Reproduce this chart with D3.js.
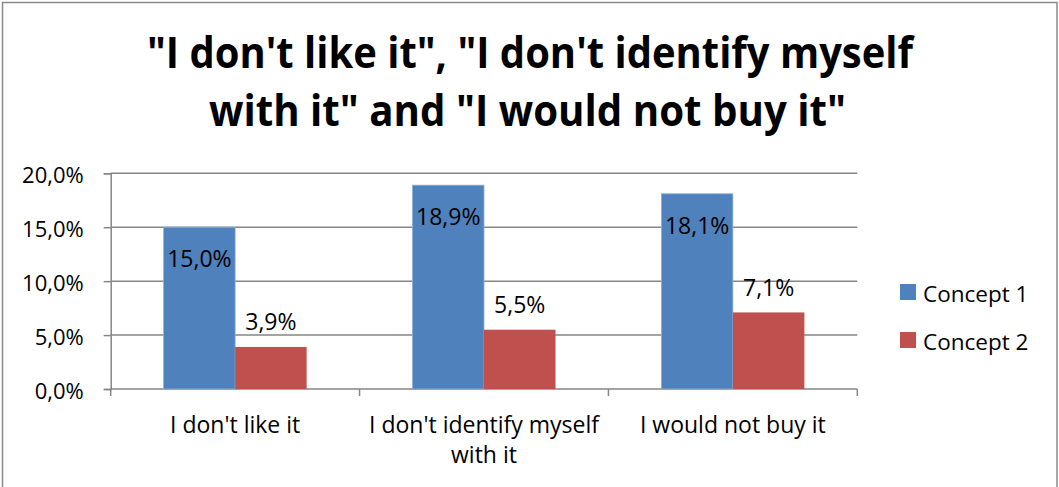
<!DOCTYPE html>
<html>
<head>
<meta charset="utf-8">
<script src="https://cdn.jsdelivr.net/npm/d3@7"></script>
<style>
  html, body { margin: 0; padding: 0; background: #fff; }
  svg { display: block; }
  text { font-family: "Open Sans", "Liberation Sans", sans-serif; fill: #000; }
</style>
</head>
<body>
<svg id="chart" width="1059" height="487"></svg>
<script>
// Data
const categories = ["I don't like it", "I don't identify myself\nwith it", "I would not buy it"];
const seriesNames = ["Concept 1", "Concept 2"];
const concept1 = [15.0, 18.9, 18.1];
const concept2 = [3.9, 5.5, 7.1];
const yTicks = [0, 5, 10, 15, 20];
const colors = ["#4F81BD", "#C0504D"];
const titleLines = ["\"I don't like it\", \"I don't identify myself", "with it\" and \"I would not buy it\""];

const values = [concept1, concept2];
const fmt = v => v.toFixed(1).replace(".", ",") + "%";

const svg = d3.select("#chart");

// Chart frame
svg.append("rect")
  .attr("x", 2.5).attr("y", 2.5)
  .attr("width", 1054.5).attr("height", 500)
  .attr("fill", "#fff").attr("stroke", "#8a8a8a").attr("stroke-width", 1.5);

// Title
const titleWidths = [766, 637];
const titleX = [530, 527.5];
const titleY = [68, 126];
titleLines.forEach((t, i) => {
  svg.append("text")
    .attr("x", titleX[i]).attr("y", titleY[i])
    .attr("text-anchor", "middle")
    .attr("font-size", 43).attr("font-weight", 700)
    .attr("textLength", titleWidths[i])
    .attr("lengthAdjust", "spacingAndGlyphs")
    .text(t);
});

// Scales
const plot = { left: 110.7, right: 857.3, top: 173.3, bottom: 389 };
const y = d3.scaleLinear().domain([0, 20]).range([plot.bottom, plot.top]);
const x0 = d3.scaleBand().domain(d3.range(categories.length))
  .range([plot.left, plot.right]).paddingInner(0).paddingOuter(0);
const x1 = d3.scaleBand().domain(d3.range(seriesNames.length))
  .range([0, x0.bandwidth()]).paddingInner(0).paddingOuter(0.74);

// Gridlines
svg.append("g")
  .selectAll("line").data(yTicks.filter(d => d > 0)).join("line")
  .attr("x1", plot.left).attr("x2", plot.right)
  .attr("y1", d => y(d)).attr("y2", d => y(d))
  .attr("stroke", "#868686").attr("stroke-width", 1.5);

// Y axis
const yAxis = d3.axisLeft(y).tickValues(yTicks).tickSize(7).tickFormat(fmt);
const gy = svg.append("g").attr("transform", `translate(${plot.left},0)`).call(yAxis);
gy.select(".domain").attr("stroke", "#868686").attr("stroke-width", 1.5);
gy.selectAll(".tick line").attr("stroke", "#868686").attr("stroke-width", 1.5);
gy.selectAll(".tick text")
  .attr("x", -27).attr("dy", "0.42em")
  .attr("font-size", 22).attr("font-family", "\"Open Sans\", sans-serif").attr("fill", "#000");

// X axis (ticks at category boundaries)
const boundaries = d3.range(categories.length + 1).map(i => plot.left + i * x0.step());
svg.append("line")
  .attr("x1", plot.left).attr("x2", plot.right)
  .attr("y1", plot.bottom).attr("y2", plot.bottom)
  .attr("stroke", "#868686").attr("stroke-width", 1.5);
svg.append("g").selectAll("line").data(boundaries).join("line")
  .attr("x1", d => d).attr("x2", d => d)
  .attr("y1", plot.bottom).attr("y2", plot.bottom + 7)
  .attr("stroke", "#868686").attr("stroke-width", 1.5);

// Bars
const groups = svg.append("g").selectAll("g").data(categories).join("g")
  .attr("transform", (d, i) => `translate(${x0(i)},0)`);

groups.each(function(cat, ci) {
  const g = d3.select(this);
  seriesNames.forEach((s, si) => {
    const v = values[si][ci];
    g.append("rect")
      .attr("x", x1(si)).attr("width", x1.bandwidth())
      .attr("y", y(v)).attr("height", y(0) - y(v))
      .attr("fill", colors[si])
      .attr("stroke", si === 0 ? "#8fb0d8" : "none").attr("stroke-width", 0.8);
    g.append("text")
      .attr("x", x1(si) + x1.bandwidth() / 2)
      .attr("y", si === 0 ? y(v) + 40 : y(v) - 16.5)
      .attr("text-anchor", "middle")
      .attr("font-size", 23)
      .text(fmt(v));
  });
});

// Category labels
categories.forEach((c, i) => {
  const lines = c.split("\n");
  const t = svg.append("text")
    .attr("x", x0(i) + x0.bandwidth() / 2).attr("y", 433)
    .attr("text-anchor", "middle").attr("font-size", 23);
  lines.forEach((ln, li) => {
    t.append("tspan")
      .attr("x", x0(i) + x0.bandwidth() / 2)
      .attr("dy", li === 0 ? 0 : 30)
      .text(ln);
  });
});

// Legend
const legend = svg.append("g").selectAll("g").data(seriesNames).join("g")
  .attr("transform", (d, i) => `translate(900,${284 + i * 48})`);
legend.append("rect").attr("width", 16).attr("height", 16)
  .attr("fill", (d, i) => colors[i]);
legend.append("text").attr("x", 23).attr("y", 17.5)
  .attr("font-size", 22.5).text(d => d);
</script>
</body>
</html>
